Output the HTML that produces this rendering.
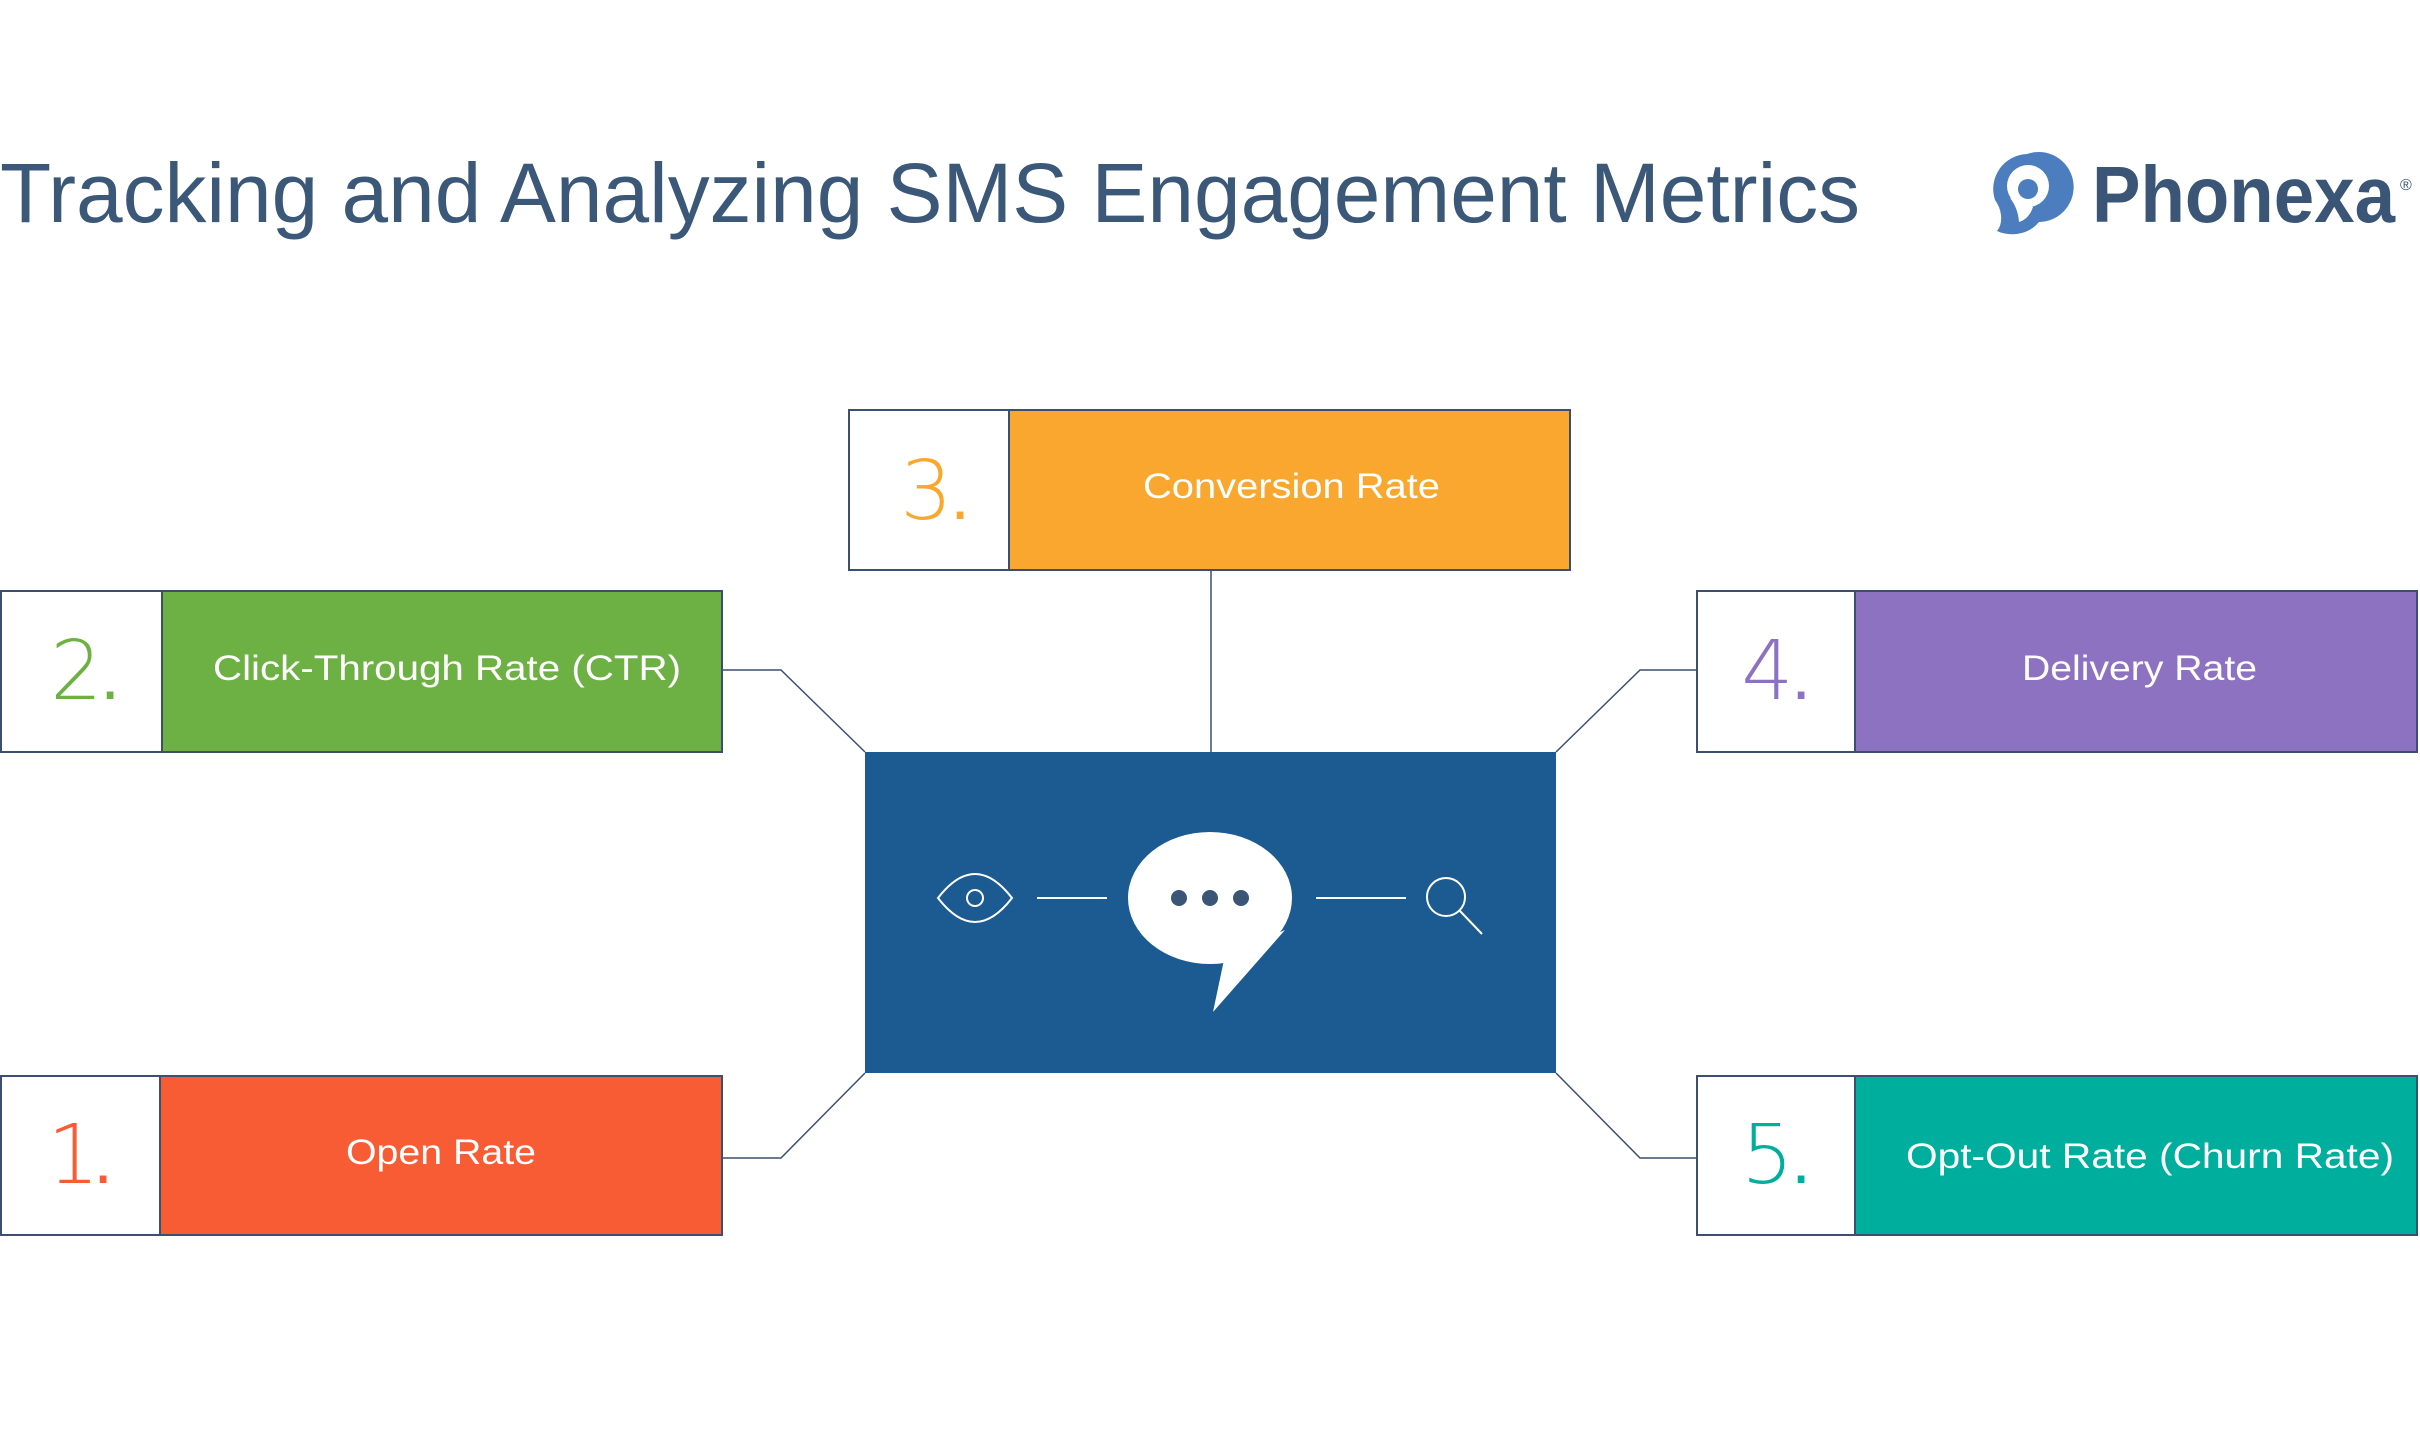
<!DOCTYPE html>
<html><head><meta charset="utf-8"><style>
html,body{margin:0;padding:0;background:#fff;}
svg{display:block;}
</style></head><body>
<svg width="2420" height="1432" viewBox="0 0 2420 1432" xmlns="http://www.w3.org/2000/svg" font-family="Liberation Sans, sans-serif">
<rect width="2420" height="1432" fill="#fff"/>
<text x="0" y="222" font-size="84" fill="#3b5878" textLength="1860" lengthAdjust="spacingAndGlyphs">Tracking and Analyzing SMS Engagement Metrics</text>
<!-- logo -->
<g>
<path d="M2027 154 a35 35 0 1 1 12 68 q-8 10 -22 12 q-12 1 -20 -3 q5 -6 4 -16 q-1 -8 -6 -15 a35 35 0 0 1 32 -46 z" fill="#4c7ebf"/>
<circle cx="2028" cy="186" r="21" fill="#fff"/>
<path d="M2010 198 q8 10 9 24 q10 -3 14 -15 z" fill="#fff"/>
<circle cx="2028" cy="189" r="10" fill="#4c7ebf"/>
</g>
<text x="2092" y="222" font-size="80" font-weight="bold" fill="#3a5575" textLength="303" lengthAdjust="spacingAndGlyphs">Phonexa</text>
<text x="2400" y="190" font-size="16" fill="#3a5575">®</text>

<!-- connectors -->
<g stroke="#3d4f70" stroke-width="1.5" fill="none">
<polyline points="722,670 781,670 865,752"/>
<polyline points="722,1158 781,1158 865,1073"/>
<line x1="1211" y1="570" x2="1211" y2="752"/>
<polyline points="1696,670 1640,670 1556,752"/>
<polyline points="1696,1158 1640,1158 1556,1073"/>
</g>

<!-- center -->
<rect x="865" y="752" width="691" height="321" fill="#1b5b91"/>
<g stroke="#fff" stroke-width="2" fill="none">
<path d="M938 898 Q975 850 1012 898 Q975 946 938 898 Z"/>
<circle cx="975" cy="898" r="8"/>
<line x1="1037" y1="898" x2="1107" y2="898"/>
<line x1="1316" y1="898" x2="1406" y2="898"/>
<circle cx="1446" cy="897" r="19"/>
<line x1="1460" y1="911" x2="1482" y2="934"/>
</g>
<ellipse cx="1210" cy="898" rx="82" ry="66" fill="#fff"/>
<path d="M1225 955 L1213 1012 L1285 930 Z" fill="#fff"/>
<circle cx="1179" cy="898" r="8" fill="#3a5575"/>
<circle cx="1210" cy="898" r="8" fill="#3a5575"/>
<circle cx="1241" cy="898" r="8" fill="#3a5575"/>

<!-- boxes -->
<g stroke="#3d4f70" stroke-width="2">
<rect x="849" y="410" width="160" height="160" fill="#fff"/>
<rect x="1009" y="410" width="561" height="160" fill="#f9a72f"/>
<rect x="1" y="591" width="161" height="161" fill="#fff"/>
<rect x="162" y="591" width="560" height="161" fill="#6db044"/>
<rect x="1" y="1076" width="159" height="159" fill="#fff"/>
<rect x="160" y="1076" width="562" height="159" fill="#f85c35"/>
<rect x="1697" y="591" width="158" height="161" fill="#fff"/>
<rect x="1855" y="591" width="562" height="161" fill="#8e72c2"/>
<rect x="1697" y="1076" width="158" height="159" fill="#fff"/>
<rect x="1855" y="1076" width="562" height="159" fill="#00ae9d"/>
</g>

<g font-size="82" text-anchor="middle" font-family="DejaVu Sans, Liberation Sans, sans-serif" font-weight="200">
<text x="935" y="519" fill="#f9a72f">3<tspan font-family="Liberation Sans" font-weight="normal" font-size="70" dx="-2">.</tspan></text>
<text x="85" y="699" fill="#6db044">2<tspan font-family="Liberation Sans" font-weight="normal" font-size="70" dx="-2">.</tspan></text>
<text x="80" y="1183" fill="#f85c35">1<tspan font-family="Liberation Sans" font-weight="normal" font-size="70" dx="-6">.</tspan></text>
<text x="1776" y="699" fill="#8e72c2">4<tspan font-family="Liberation Sans" font-weight="normal" font-size="70" dx="-2">.</tspan></text>
<text x="1776" y="1183" fill="#00ae9d">5<tspan font-family="Liberation Sans" font-weight="normal" font-size="70" dx="-2">.</tspan></text>
</g>
<g font-size="35" fill="#fff">
<text x="1143" y="498" textLength="297" lengthAdjust="spacingAndGlyphs">Conversion Rate</text>
<text x="213" y="680" textLength="468" lengthAdjust="spacingAndGlyphs">Click-Through Rate (CTR)</text>
<text x="346" y="1164" textLength="190" lengthAdjust="spacingAndGlyphs">Open Rate</text>
<text x="2022" y="680" textLength="235" lengthAdjust="spacingAndGlyphs">Delivery Rate</text>
<text x="1906" y="1168" textLength="488" lengthAdjust="spacingAndGlyphs">Opt-Out Rate (Churn Rate)</text>
</g>
</svg>
</body></html>
